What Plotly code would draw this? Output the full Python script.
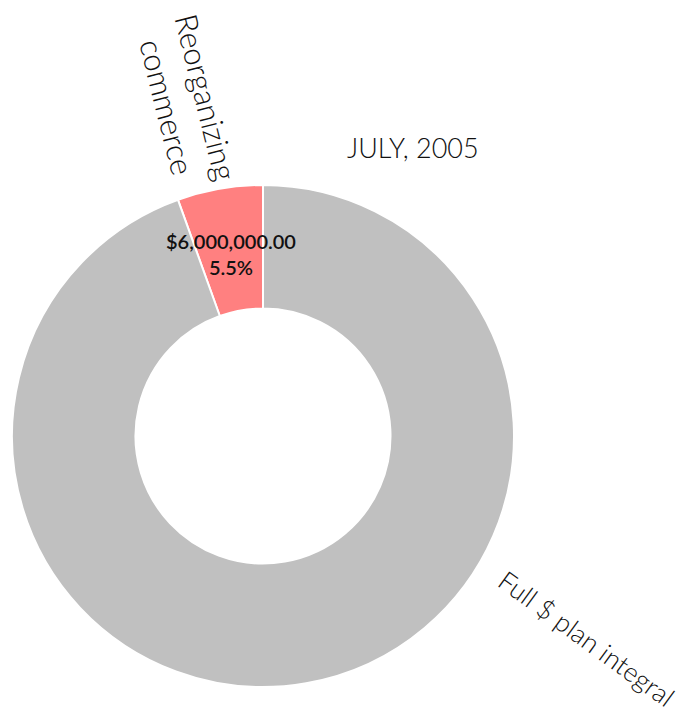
import plotly.graph_objects as go

labels = ["Reorganizing commerce", "Full $ plan integral"]
values = [6000000, 103090909]
colors = ["#ff8080", "#c0c0c0"]
title_text = "JULY, 2005"

W, H = 694, 715
cx, cy, R = 255, 428, 251

total = sum(values)
pct = values[0] / total * 100

fig = go.Figure()
fig.add_trace(go.Pie(
    labels=labels, values=values, sort=False, direction="clockwise",
    rotation=-values[0] / total * 360, hole=0.508, textinfo="none",
    hoverinfo="label+value+percent",
    marker=dict(colors=colors, line=dict(color="white", width=2)),
    domain=dict(x=[(cx - R) / W, (cx + R) / W], y=[1 - (cy + R) / H, 1 - (cy - R) / H]),
    showlegend=False,
))

annos = [
    dict(x=405 / W, y=1 - 139 / H, text=title_text,
         font=dict(family="Lato", size=27, color="#111", weight=300), textangle=0),
    dict(x=179 / W, y=1 - 94 / H, text="Reorganizing<br>commerce",
         font=dict(family="Lato", size=31, color="#111", weight=300), textangle=76),
    dict(x=578 / W, y=1 - 630 / H, text=labels[1],
         font=dict(family="Lato", size=26.5, color="#111", weight=300), textangle=36),
    dict(x=223 / W, y=1 - 246 / H,
         text=f"${values[0]:,.2f}<br>{pct:.1f}%",
         font=dict(family="Lato", size=20, color="#111", weight=600), textangle=0),
]
for a in annos:
    fig.add_annotation(xref="paper", yref="paper", xanchor="center", yanchor="middle",
                       showarrow=False, align="center", **a)

fig.update_layout(width=W, height=H, margin=dict(l=0, r=0, t=0, b=0),
                  paper_bgcolor="white", plot_bgcolor="white")
fig.write_html("out.html")
